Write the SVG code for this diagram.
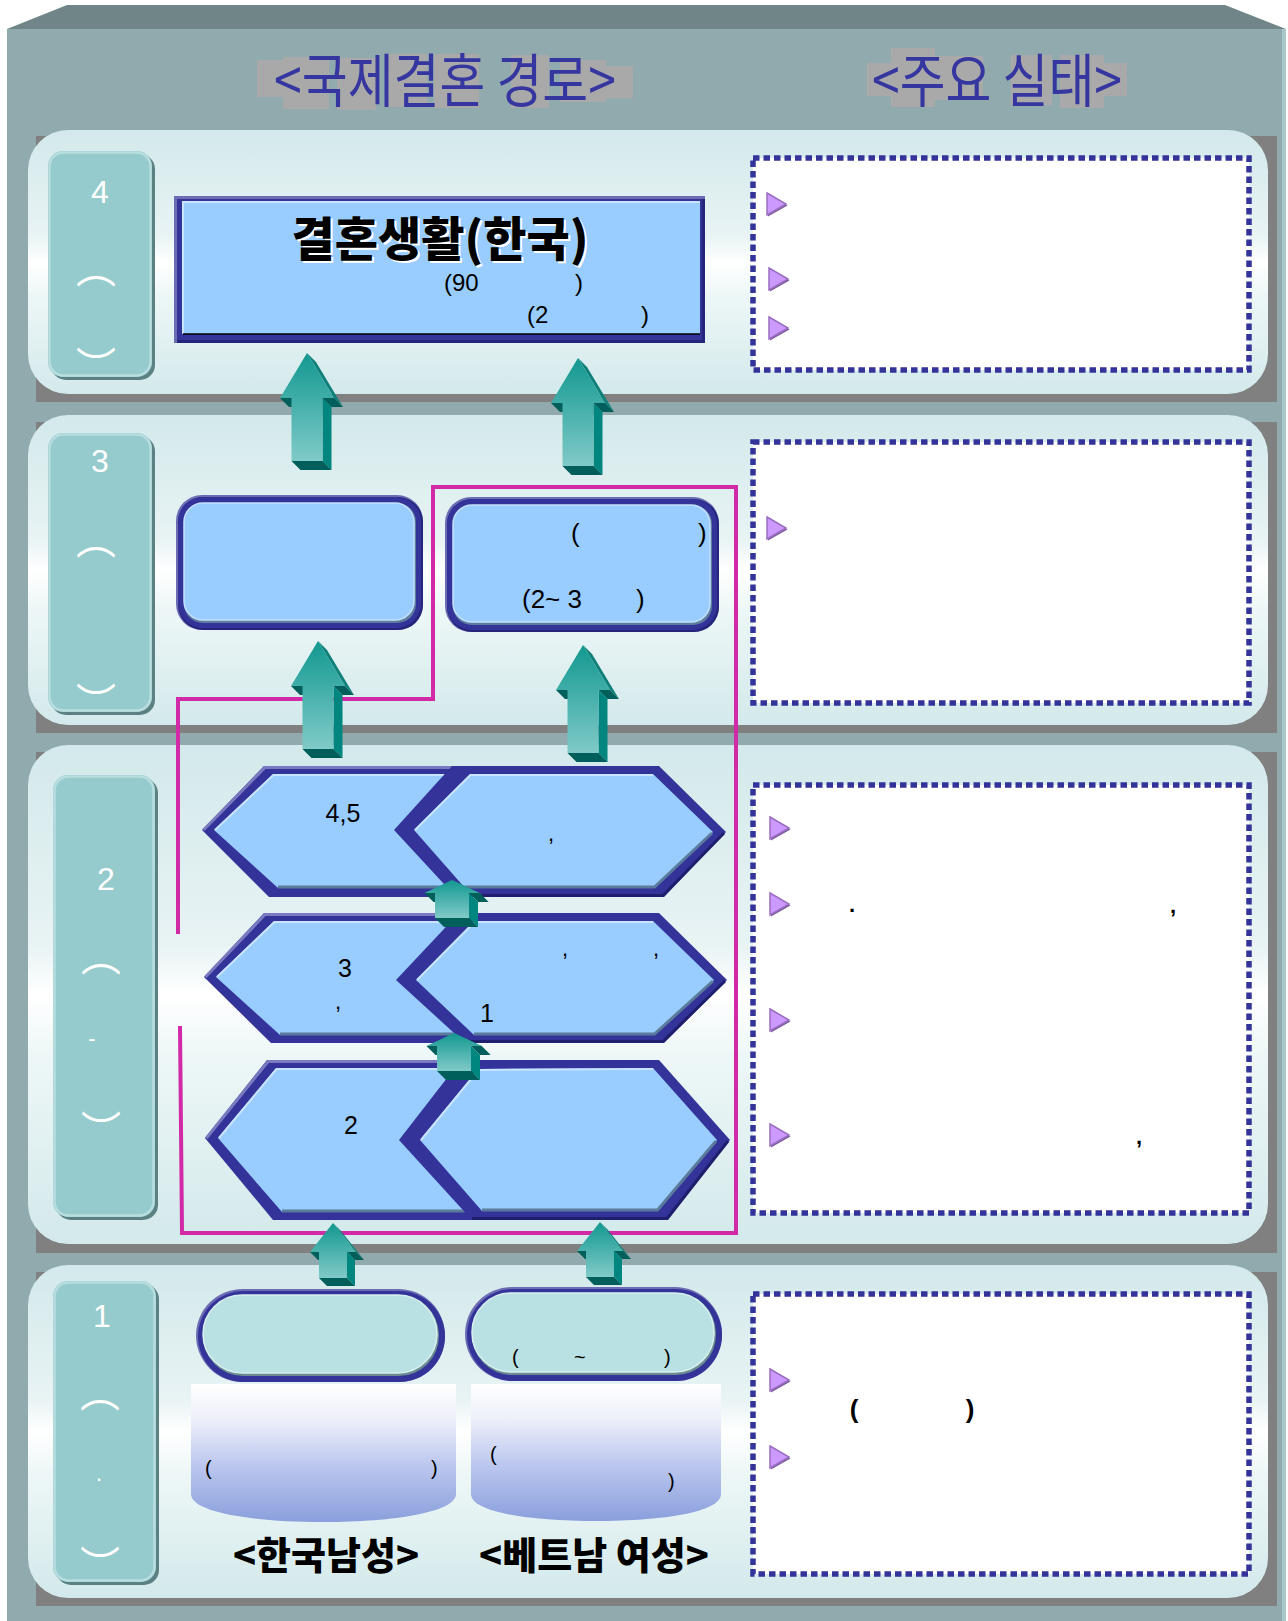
<svg xmlns="http://www.w3.org/2000/svg" width="1288" height="1621" viewBox="0 0 1288 1621">
<style>
.pnl{fill:url(#panelG)}
.shd{fill:#808080}
.lb{fill:#96cbcd}
.lbs{fill:#5c8183}
.lbh{fill:none;stroke:#b7dddf;stroke-width:2.5}
.lt{fill:#fff;font-family:"Liberation Sans",sans-serif;font-size:32px;text-anchor:middle}
.arc{fill:#fff;font-family:"Noto Sans CJK KR",sans-serif;font-size:40px;text-anchor:middle;dominant-baseline:central}
.navy{fill:#333399}
.lav{fill:none;stroke:#7a7ac0;stroke-width:3}
.drk{fill:none;stroke:#1f1f6e;stroke-width:3}
.sky{fill:#99ccff}
.hl{fill:none;stroke:#c8e4ff;stroke-width:2}
.sh{fill:none;stroke:#5a7b9c;stroke-width:3}
.t{font-family:"Liberation Sans",sans-serif;fill:#000}
.dot{fill:#fff;stroke:#333399;stroke-width:5.5;stroke-dasharray:6.5 4}
.tri{fill:#cc99ff;stroke:#9a6ec0;stroke-width:1.5}
.tris{fill:#7d5c9e}
.hd{font-family:"Noto Sans CJK KR",sans-serif;font-size:58px;fill:#3636a0;text-anchor:middle}
.hb{fill:#a9a9a9}
.pink{fill:none;stroke:#d22aa6;stroke-width:4}
.a1{fill:#0f8079}
.a2{fill:#005e5b}
.a3{fill:#00857f}
.af{fill:url(#arrowG)}
</style>
<defs>
 <linearGradient id="panelG" x1="0" y1="0" x2="0" y2="1">
  <stop offset="0" stop-color="#d3e9eb"/>
  <stop offset="0.4" stop-color="#e8f3f4"/>
  <stop offset="0.5" stop-color="#ffffff"/>
  <stop offset="0.62" stop-color="#eef7f7"/>
  <stop offset="1" stop-color="#d3e9eb"/>
 </linearGradient>
 <linearGradient id="arrowG" x1="0" y1="0" x2="0" y2="1">
  <stop offset="0" stop-color="#129890"/>
  <stop offset="1" stop-color="#80cac8"/>
 </linearGradient>
 <linearGradient id="bannerG" x1="0" y1="0" x2="0" y2="1">
  <stop offset="0" stop-color="#ffffff"/>
  <stop offset="0.25" stop-color="#eef0fa"/>
  <stop offset="0.6" stop-color="#bac6ee"/>
  <stop offset="1" stop-color="#8a9fdc"/>
 </linearGradient>
 <g id="arrB">
  <polygon class="a1" points="0,0 27,45 36,54 9,9"/>
  <polygon class="a2" points="27,45 15.5,45 24.5,54 36,54"/>
  <polygon class="a3" points="15.5,45 15.5,108 24.5,117 24.5,54"/>
  <polygon class="a2" points="15.5,108 -15.5,108 -6.5,117 24.5,117"/>
  <polygon class="a2" points="-15.5,45 -27,45 -18,54 -6.5,54"/>
  <polygon class="af" points="0,0 27,45 15.5,45 15.5,108 -15.5,108 -15.5,45 -27,45"/>
 </g>
 <g id="arrM">
  <polygon class="a1" points="0,0 27.5,13 36.5,22 9,9"/>
  <polygon class="a2" points="27.5,13 17,13 26,22 36.5,22"/>
  <polygon class="a3" points="17,13 17,38 26,47 26,22"/>
  <polygon class="a2" points="17,38 -17,38 -8,47 26,47"/>
  <polygon class="a2" points="-17,13 -27.5,13 -18.5,22 -8,22"/>
  <polygon class="af" points="0,0 27.5,13 17,13 17,38 -17,38 -17,13 -27.5,13"/>
 </g>
 <g id="arrS">
  <polygon class="a1" points="0,0 23,29 31,37 8,8"/>
  <polygon class="a2" points="23,29 14,29 22,37 31,37"/>
  <polygon class="a3" points="14,29 14,55 22,63 22,37"/>
  <polygon class="a2" points="14,55 -14,55 -6,63 22,63"/>
  <polygon class="a2" points="-14,29 -23,29 -15,37 -6,37"/>
  <polygon class="af" points="0,0 23,29 14,29 14,55 -14,55 -14,29 -23,29"/>
 </g>
 <g id="tri">
  <polygon class="tris" points="-8,-9.5 11.5,1.5 -8,12.5"/>
  <polygon class="tri" points="-9,-11 10,0 -9,11"/>
 </g>
</defs>

<!-- frame -->
<g id="frame">
 <rect x="0" y="0" width="1288" height="1621" fill="#ffffff"/>
 <polygon points="7,29 67,5 1225,5 1286,29" fill="#6f8587"/>
 <rect x="7" y="29" width="1279" height="1592" fill="#90aaae"/>
 <rect x="1282" y="29" width="4" height="1592" fill="#a8c9c9"/>
</g>

<!-- headers -->
<g id="header-left">
 <rect class="hb" x="257" y="60" width="26" height="37"/>
 <rect class="hb" x="283" y="57" width="46" height="52"/>
 <rect class="hb" x="337" y="58" width="39" height="52"/>
 <rect class="hb" x="386" y="54" width="41" height="53"/>
 <rect class="hb" x="434" y="54" width="45" height="54"/>
 <rect class="hb" x="511" y="55" width="38" height="53"/>
 <rect class="hb" x="560" y="60" width="46" height="42"/>
 <rect class="hb" x="606" y="66" width="27" height="32"/>
 <text class="hd" transform="translate(445,102) scale(0.86,1)">&lt;국제결혼 경로&gt;</text>
</g>
<g id="header-right">
 <rect class="hb" x="867" y="63" width="24" height="33"/>
 <rect class="hb" x="891" y="48" width="44" height="59"/>
 <rect class="hb" x="935" y="56" width="48" height="44"/>
 <rect class="hb" x="1011" y="55" width="41" height="50"/>
 <rect class="hb" x="1060" y="55" width="44" height="53"/>
 <rect class="hb" x="1104" y="63" width="23" height="33"/>
 <text class="hd" transform="translate(997,102) scale(0.86,1)">&lt;주요 실태&gt;</text>
</g>

<!-- stage panels -->
<g id="panel4">
 <rect class="shd" x="36" y="136" width="1241" height="266"/>
 <rect class="pnl" x="28" y="130" width="1240" height="264" rx="40"/>
</g>
<g id="panel3">
 <rect class="shd" x="36" y="422" width="1241" height="311"/>
 <rect class="pnl" x="28" y="415" width="1240" height="310" rx="40"/>
</g>
<g id="panel2">
 <rect class="shd" x="36" y="752" width="1241" height="501"/>
 <rect class="pnl" x="28" y="745" width="1240" height="499" rx="40"/>
</g>
<g id="panel1">
 <rect class="shd" x="36" y="1272" width="1241" height="334"/>
 <rect class="pnl" x="28" y="1265" width="1240" height="333" rx="40"/>
</g>

<!-- stage labels -->
<g id="label4">
 <rect class="lbs" x="51" y="154" width="104" height="226" rx="15"/>
 <rect class="lb" x="48" y="151" width="104" height="226" rx="15"/>
 <rect class="lbh" x="49.5" y="152.5" width="101" height="223" rx="14"/>
 <text class="lt" x="100" y="203">4</text>
 <text class="arc" x="96" y="266">︵</text>
 <text class="arc" x="96" y="364">︶</text>
</g>
<g id="label3">
 <rect class="lbs" x="51" y="436" width="104" height="279" rx="15"/>
 <rect class="lb" x="48" y="433" width="104" height="279" rx="15"/>
 <rect class="lbh" x="49.5" y="434.5" width="101" height="276" rx="14"/>
 <text class="lt" x="100" y="472">3</text>
 <text class="arc" x="96" y="537">︵</text>
 <text class="arc" x="96" y="700">︶</text>
</g>
<g id="label2">
 <rect class="lbs" x="56" y="778" width="102" height="442" rx="15"/>
 <rect class="lb" x="53" y="775" width="102" height="442" rx="15"/>
 <rect class="lbh" x="54.5" y="776.5" width="99" height="439" rx="14"/>
 <text class="lt" x="106" y="890">2</text>
 <text class="arc" x="101" y="954">︵</text>
 <text class="lt" x="92" y="1046" style="font-size:22px">-</text>
 <text class="arc" x="101" y="1128">︶</text>
</g>
<g id="label1">
 <rect class="lbs" x="56" y="1284" width="103" height="301" rx="15"/>
 <rect class="lb" x="53" y="1281" width="103" height="301" rx="15"/>
 <rect class="lbh" x="54.5" y="1282.5" width="100" height="298" rx="14"/>
 <text class="lt" x="102" y="1327">1</text>
 <text class="arc" x="100" y="1390">︵</text>
 <text class="lt" x="99" y="1481" style="font-size:22px">.</text>
 <text class="arc" x="100" y="1563">︶</text>
</g>

<!-- right column boxes -->
<g id="facts4">
 <rect class="dot" x="753" y="158" width="496" height="212"/>
 <use href="#tri" x="776" y="204"/>
 <use href="#tri" x="778" y="279"/>
 <use href="#tri" x="778" y="328"/>
</g>
<g id="facts3">
 <rect class="dot" x="753" y="442" width="496" height="261"/>
 <use href="#tri" x="776" y="528"/>
</g>
<g id="facts2">
 <rect class="dot" x="753" y="785" width="496" height="428"/>
 <use href="#tri" x="779" y="828"/>
 <use href="#tri" x="779" y="904"/>
 <use href="#tri" x="779" y="1020"/>
 <use href="#tri" x="779" y="1135"/>
 <text class="t" x="852" y="912" style="font-size:22px;font-weight:bold" text-anchor="middle">.</text>
 <text class="t" x="1173" y="913" style="font-size:22px;font-weight:bold" text-anchor="middle">,</text>
 <text class="t" x="1139" y="1144" style="font-size:22px;font-weight:bold" text-anchor="middle">,</text>
</g>
<g id="facts1">
 <rect class="dot" x="753" y="1294" width="496" height="280"/>
 <use href="#tri" x="779" y="1380"/>
 <use href="#tri" x="779" y="1457"/>
 <text class="t" x="854" y="1418" style="font-size:26px;font-weight:bold" text-anchor="middle">(</text>
 <text class="t" x="970" y="1418" style="font-size:26px;font-weight:bold" text-anchor="middle">)</text>
</g>

<!-- stage 4 node -->
<g id="node-marriage-life">
 <rect x="174" y="196" width="531" height="147" fill="#6c6cb4"/>
 <rect x="177" y="199" width="528" height="144" fill="#25257c"/>
 <rect x="177" y="199" width="525" height="141" class="navy"/>
 <rect x="182" y="201" width="518" height="133" class="sky"/>
 <polyline class="hl" points="183,334 183,202 700,202"/>
 <line x1="183" y1="334" x2="700" y2="334" stroke="#000" stroke-width="1.5"/>
 <text x="442" y="258" text-anchor="middle" style="font-family:'Noto Sans CJK KR',sans-serif;font-size:47px;font-weight:900;fill:#fff">결혼생활(한국)</text>
 <text x="440" y="256" text-anchor="middle" style="font-family:'Noto Sans CJK KR',sans-serif;font-size:47px;font-weight:900;fill:#000">결혼생활(한국)</text>
 <text class="t" style="font-size:24px"><tspan x="444" y="291">(90</tspan><tspan x="575" y="291">)</tspan></text>
 <text class="t" style="font-size:24px"><tspan x="527" y="323">(2</tspan><tspan x="641" y="323">)</tspan></text>
</g>

<!-- stage 3 nodes -->
<g id="node-s3-left">
 <rect x="176" y="495" width="247" height="135" rx="26" fill="#6c6cb4"/>
 <rect x="178" y="497" width="245" height="133" rx="25" fill="#25257c"/>
 <rect x="178" y="497" width="243" height="131" rx="25" class="navy"/>
 <rect x="184" y="503" width="232" height="120" rx="19" fill="#5e7d9e"/>
 <rect x="184" y="503" width="230" height="117" rx="19" class="sky" stroke="#c3e1ff" stroke-width="1.5"/>
</g>
<g id="node-s3-right">
 <rect x="445" y="497" width="274" height="135" rx="26" fill="#6c6cb4"/>
 <rect x="447" y="499" width="272" height="133" rx="25" fill="#25257c"/>
 <rect x="447" y="499" width="270" height="131" rx="25" class="navy"/>
 <rect x="453" y="505" width="259" height="120" rx="19" fill="#5e7d9e"/>
 <rect x="453" y="505" width="257" height="117" rx="19" class="sky" stroke="#c3e1ff" stroke-width="1.5"/>
 <text class="t" style="font-size:26px"><tspan x="571" y="542">(</tspan><tspan x="698" y="542">)</tspan></text>
 <text class="t" style="font-size:26px"><tspan x="522" y="608">(2~ 3</tspan><tspan x="636" y="608">)</tspan></text>
</g>

<!-- stage 2 hexagons -->
<g id="hex-row1">
 <polygon class="navy" points="202,830 264,766 462,766 522,830 462,897 269,897"/>
 <polyline class="lav" points="203.5,830 265,767.5 462,767.5"/>
 <polygon class="sky" points="214,830 273,774 470,774 520,830 470,888 278,888"/>
 <polyline class="hl" points="215,830 273.5,775 470,775"/>
 <polyline class="sh" points="278,887 470,887"/>
 <polygon class="navy" points="394,830 452,766 659,766 726,832 664,897 456,897"/>
 <polyline class="drk" points="724,833 663,895.5 456,895.5"/>
 <polygon class="sky" points="414,830 470,774 653,774 713,832 655,888 465,888"/>
 <polyline class="hl" points="415,830 470.5,775 653,775"/>
 <polyline class="sh" points="712,833 654.5,887 465,887"/>
 <text class="t" x="343" y="822" text-anchor="middle" style="font-size:25px">4,5</text>
 <text class="t" x="551" y="841" text-anchor="middle" style="font-size:22px">,</text>
</g>
<g id="hex-row2">
 <polygon class="navy" points="204,977 264,913 470,913 530,978 470,1043 271,1043"/>
 <polyline class="lav" points="205.5,977 265,914.5 470,914.5"/>
 <polygon class="sky" points="216,977 274,921 470,921 525,978 470,1035 280,1035"/>
 <polyline class="hl" points="217,977 274.5,922 470,922"/>
 <polyline class="sh" points="280,1034 470,1034"/>
 <polygon class="navy" points="396,980 459,913 659,913 727,980 664,1043 465,1043"/>
 <polyline class="drk" points="725,981 663,1041.5 465,1041.5"/>
 <polygon class="sky" points="416,980 474,921 653,921 714,980 655,1035 474,1035"/>
 <polyline class="hl" points="417,980 474.5,922 653,922"/>
 <polyline class="sh" points="713,981 654.5,1034 474,1034"/>
 <text class="t" x="345" y="977" text-anchor="middle" style="font-size:25px">3</text>
 <text class="t" x="338" y="1009" text-anchor="middle" style="font-size:22px">,</text>
 <text class="t" x="565" y="956" text-anchor="middle" style="font-size:22px">,</text>
 <text class="t" x="656" y="956" text-anchor="middle" style="font-size:22px">,</text>
 <text class="t" x="487" y="1022" text-anchor="middle" style="font-size:25px">1</text>
</g>
<g id="hex-row3">
 <polygon class="navy" points="205,1138 267,1060 475,1060 540,1140 475,1220 273,1220"/>
 <polyline class="lav" points="206.5,1138 268,1061.5 475,1061.5"/>
 <polygon class="sky" points="218,1138 276,1068 475,1068 535,1140 475,1212 282,1212"/>
 <polyline class="hl" points="219,1138 276.5,1069 475,1069"/>
 <polyline class="sh" points="282,1211 475,1211"/>
 <polygon class="navy" points="399,1140 461,1060 659,1060 730,1140 668,1220 472,1220"/>
 <polyline class="drk" points="728,1141 667,1218.5 472,1218.5"/>
 <polygon class="sky" points="420,1140 478,1069 653,1068 717,1140 658,1211 482,1211"/>
 <polyline class="hl" points="421,1140 478.5,1070 653,1069"/>
 <polyline class="sh" points="716,1141 657.5,1210 482,1210"/>
 <text class="t" x="351" y="1134" text-anchor="middle" style="font-size:25px">2</text>
</g>

<!-- stage 1 nodes -->
<g id="node-korean-man">
 <path d="M191,1384 H456 V1494 C456,1512 395,1522 323,1522 C251,1522 191,1512 191,1494 Z" fill="url(#bannerG)"/>
 <rect x="196" y="1289" width="249" height="93" rx="46.5" fill="#6c6cb4"/>
 <rect x="198" y="1291" width="247" height="91" rx="45.5" class="navy"/>
 <rect x="203" y="1295" width="236" height="81" rx="40" fill="#6a8c90"/>
 <rect x="203" y="1295" width="234" height="78" rx="39" fill="#b9e0e2" stroke="#d8f0f0" stroke-width="1.5"/>
 <text class="t" style="font-size:20px"><tspan x="205" y="1475">(</tspan><tspan x="431" y="1475">)</tspan></text>
 <text x="326" y="1569" text-anchor="middle" style="font-family:'Noto Sans CJK KR',sans-serif;font-size:38px;font-weight:900;fill:#000">&lt;한국남성&gt;</text>
</g>
<g id="node-vietnam-woman">
 <path d="M471,1384 H721 V1494 C721,1512 664,1521 596,1521 C528,1521 471,1512 471,1494 Z" fill="url(#bannerG)"/>
 <rect x="465" y="1287" width="257" height="94" rx="47" fill="#6c6cb4"/>
 <rect x="467" y="1289" width="255" height="92" rx="46" class="navy"/>
 <rect x="472" y="1293" width="244" height="82" rx="40" fill="#6a8c90"/>
 <rect x="472" y="1293" width="242" height="79" rx="39" fill="#b9e0e2" stroke="#d8f0f0" stroke-width="1.5"/>
 <text class="t" style="font-size:20px"><tspan x="512" y="1364">(</tspan><tspan x="574" y="1364">~</tspan><tspan x="664" y="1364">)</tspan></text>
 <text class="t" style="font-size:20px"><tspan x="490" y="1461">(</tspan><tspan x="668" y="1488">)</tspan></text>
 <text x="594" y="1569" text-anchor="middle" style="font-family:'Noto Sans CJK KR',sans-serif;font-size:38px;font-weight:900;fill:#000">&lt;베트남 여성&gt;</text>
</g>

<!-- connectors -->
<g id="connectors">
 <path class="pink" d="M178,934 L178,699 L433,699 L433,487 L736,487 L736,1233 L182,1233 L180,1026"/>
 <use href="#arrB" x="307" y="353"/>
 <use href="#arrB" x="578" y="358"/>
 <use href="#arrB" x="318" y="641"/>
 <use href="#arrB" x="583" y="645"/>
 <use href="#arrM" x="452" y="880"/>
 <use href="#arrM" x="454" y="1033"/>
 <use href="#arrS" x="333" y="1223"/>
 <use href="#arrS" x="600" y="1222"/>
</g>
</svg>
